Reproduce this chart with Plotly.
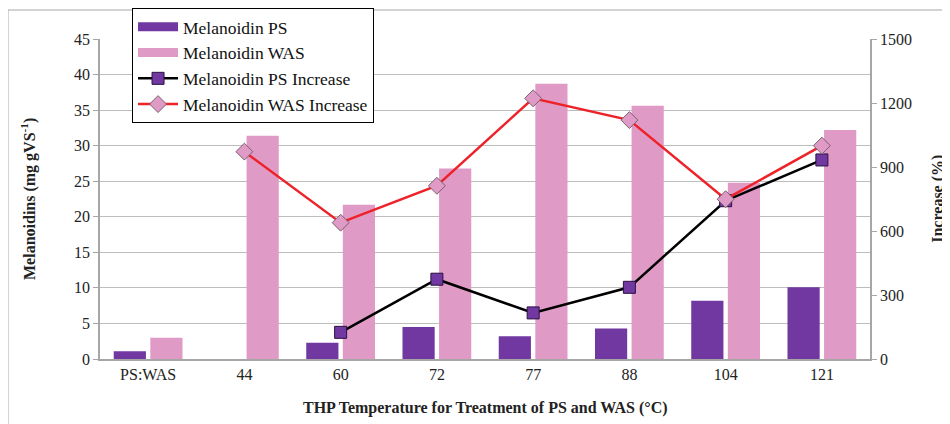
import plotly.graph_objects as go

categories = ["PS:WAS", "44", "60", "72", "77", "88", "104", "121"]
melanoidin_ps = [1.1, 0, 2.3, 4.5, 3.2, 4.3, 8.2, 10.1]
melanoidin_was = [3.0, 31.4, 21.7, 26.8, 38.7, 35.6, 24.8, 32.2]
ps_increase = [None, None, 125, 374, 216, 336, 742, 933]
was_increase = [None, 972, 639, 812, 1222, 1120, 749, 1000]

FONT = "Liberation Serif, Times New Roman, serif"
PS_COLOR = "#7038A0"
WAS_COLOR = "#E09AC6"

fig = go.Figure()
fig.add_trace(go.Bar(x=categories, y=melanoidin_ps, name="Melanoidin PS",
                     marker=dict(color=PS_COLOR, line=dict(width=0)), showlegend=False))
fig.add_trace(go.Bar(x=categories, y=melanoidin_was, name="Melanoidin WAS",
                     marker=dict(color=WAS_COLOR, line=dict(width=0)), showlegend=False))
# legend keys for the bars (wide rectangles, as in the reference)
fig.add_trace(go.Scatter(x=[None], y=[None], name="Melanoidin PS", mode="lines",
                         line=dict(color=PS_COLOR, width=9), legendgroup="a"))
fig.add_trace(go.Scatter(x=[None], y=[None], name="Melanoidin WAS", mode="lines",
                         line=dict(color=WAS_COLOR, width=9), legendgroup="b"))
fig.add_trace(go.Scatter(x=categories, y=ps_increase, name="Melanoidin PS Increase",
                         yaxis="y2", mode="lines+markers", connectgaps=False,
                         line=dict(color="#000000", width=2.5),
                         marker=dict(symbol="square", size=12, color=PS_COLOR,
                                     line=dict(color="#2a1040", width=1)),
                         legendgroup="c"))
fig.add_trace(go.Scatter(x=categories, y=was_increase, name="Melanoidin WAS Increase",
                         yaxis="y2", mode="lines+markers",
                         line=dict(color="#EE2229", width=2.5),
                         marker=dict(symbol="diamond", size=13, color=WAS_COLOR,
                                     line=dict(color="#7a6070", width=1)),
                         legendgroup="d"))

title_font = dict(family=FONT, size=16, color="#222222")

fig.update_layout(
    width=942, height=416,
    margin=dict(l=92, r=80, t=31, b=65, autoexpand=False),
    paper_bgcolor="white", plot_bgcolor="white",
    font=dict(family=FONT, size=16, color="#222222"),
    barmode="group", bargap=0.24, bargroupgap=0.12,
    xaxis=dict(
        type="category", showgrid=False, showline=True, linecolor="#A6A6A6",
        linewidth=1.5, ticks="", tickfont=dict(size=16), automargin=False,
    ),
    yaxis=dict(
        range=[0, 45], dtick=5, showgrid=True, gridcolor="#BDBDBD", gridwidth=1.2,
        showline=True, linecolor="#A6A6A6", linewidth=1.5, ticks="outside",
        ticklen=5, tickcolor="#A6A6A6", tickfont=dict(size=16), zeroline=False,
        automargin=False,
    ),
    yaxis2=dict(
        range=[0, 1500], dtick=300, overlaying="y", side="right", showgrid=False,
        showline=True, linecolor="#A6A6A6", linewidth=1.5, ticks="outside",
        ticklen=5, tickcolor="#A6A6A6", tickfont=dict(size=16), zeroline=False,
        automargin=False,
    ),
    legend=dict(
        x=0.0416, y=1.097, xanchor="left", yanchor="top",
        bgcolor="white", bordercolor="#000000", borderwidth=1,
        font=dict(family=FONT, size=17.5, color="#111111"),
        tracegroupgap=2.5, itemwidth=40, traceorder="normal",
    ),
    annotations=[
        dict(text="<b>THP Temperature for Treatment of PS and WAS (°C)</b>",
             xref="paper", yref="paper", x=0.5, y=-0.153, showarrow=False,
             xanchor="center", yanchor="middle", font=title_font),
        dict(text="<b>Melanoidins (mg gVS<sup>-1</sup>)</b>",
             xref="paper", yref="paper", x=-0.0935, y=0.5, showarrow=False,
             textangle=-90, xanchor="center", yanchor="middle", font=title_font),
        dict(text="<b>Increase (%)</b>",
             xref="paper", yref="paper", x=1.088, y=0.5, showarrow=False,
             textangle=-90, xanchor="center", yanchor="middle", font=title_font),
    ],
    shapes=[dict(type="rect", xref="paper", yref="paper",
                 x0=-0.1195, y0=-0.25, x1=1.2, y1=1.0906,
                 line=dict(color="#A6A6A6", width=1), fillcolor="rgba(0,0,0,0)",
                 layer="below")],
)

fig.write_html("out.html")
